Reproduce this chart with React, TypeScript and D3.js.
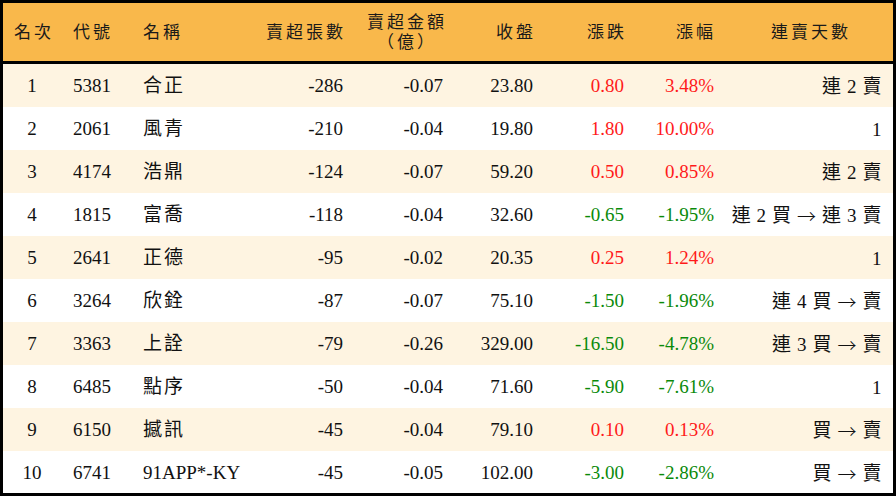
import React from 'react';
import * as d3 from 'd3';

const ranks = [1, 2, 3, 4, 5, 6, 7, 8, 9, 10];
const codes = ['5381', '2061', '4174', '1815', '2641', '3264', '3363', '6485', '6150', '6741'];
const names = ['合正', '風青', '浩鼎', '富喬', '正德', '欣銓', '上詮', '點序', '撼訊', '91APP*-KY'];
const sellLots = [-286, -210, -124, -118, -95, -87, -79, -50, -45, -45];
const sellAmt = [-0.07, -0.04, -0.07, -0.04, -0.02, -0.07, -0.26, -0.04, -0.04, -0.05];
const closes = [23.8, 19.8, 59.2, 32.6, 20.35, 75.1, 329.0, 71.6, 79.1, 102.0];
const changes = [0.8, 1.8, 0.5, -0.65, 0.25, -1.5, -16.5, -5.9, 0.1, -3.0];
const pcts = [3.48, 10.0, 0.85, -1.95, 1.24, -1.96, -4.78, -7.61, 0.13, -2.86];
const streaks = ['連 2 賣', '1', '連 2 賣', '連 2 買 → 連 3 賣', '1', '連 4 買 → 賣', '連 3 買 → 賣', '1', '買 → 賣', '買 → 賣'];

const W = 896;
const H = 496;
const headerH = 62;
const FONT = "'Liberation Serif', 'Noto Sans CJK TC', serif";
const CJK = "'Noto Sans CJK TC', sans-serif";

const App = () => {
  // 列位置
  const y = d3.scaleBand<number>()
    .domain(d3.range(ranks.length))
    .range([64, 494])
    .padding(0);

  const colour = (v: number) => (v > 0 ? '#ff1a1a' : v < 0 ? '#0a8a0a' : '#111');
  const fmt2 = (v: number) => v.toFixed(2);

  const head = { fontFamily: FONT, fontSize: 17, letterSpacing: 3, fill: '#1a1a1a' } as const;
  const cell = { fontFamily: FONT, fontSize: 19, fill: '#111' } as const;

  const streakText = (s: string) =>
    s.split(/(→)/).map((part, k) =>
      part === '→'
        ? <tspan key={k} fontFamily={CJK} fontWeight={300}>{part}</tspan>
        : <tspan key={k}>{part}</tspan>
    );

  return (
    <svg width={W} height={H} style={{ position: 'absolute', left: 0, top: 0 }}>
      <rect x={0} y={0} width={W} height={headerH} fill="#f9b84b" />
      {ranks.map((_, i) => (
        <rect key={i} x={0} y={y(i)} width={W} height={y.bandwidth()} fill={i % 2 === 0 ? '#fef4e1' : '#ffffff'} />
      ))}
      <rect x={0} y={61} width={W} height={3} fill="#000" />

      {/* 表頭 */}
      <g dominantBaseline="central" style={head}>
        <text x={34} y={32} textAnchor="middle">名次</text>
        <text x={73} y={32}>代號</text>
        <text x={143} y={32}>名稱</text>
        <text x={346} y={32} textAnchor="end">賣超張數</text>
        <text x={407} y={22} textAnchor="middle">賣超金額</text>
        <text x={407} y={42} textAnchor="middle">（億）</text>
        <text x={536} y={32} textAnchor="end">收盤</text>
        <text x={627} y={32} textAnchor="end">漲跌</text>
        <text x={716} y={32} textAnchor="end">漲幅</text>
        <text x={811} y={32} textAnchor="middle">連賣天數</text>
      </g>

      {ranks.map((r, i) => {
        const cy = (y(i) as number) + y.bandwidth() / 2;
        return (
          <g key={r} dominantBaseline="central" style={cell}>
            <text x={32} y={cy} textAnchor="middle">{r}</text>
            <text x={73} y={cy}>{codes[i]}</text>
            <text x={143} y={cy} letterSpacing={names[i].length === 2 ? 2 : 0}>{names[i]}</text>
            <text x={343} y={cy} textAnchor="end">{sellLots[i]}</text>
            <text x={443} y={cy} textAnchor="end">{fmt2(sellAmt[i])}</text>
            <text x={533} y={cy} textAnchor="end">{fmt2(closes[i])}</text>
            <text x={624} y={cy} textAnchor="end" fill={colour(changes[i])}>{fmt2(changes[i])}</text>
            <text x={714} y={cy} textAnchor="end" fill={colour(pcts[i])}>{fmt2(pcts[i]) + '%'}</text>
            <text x={882} y={cy} textAnchor="end" letterSpacing={0.6}>{streakText(streaks[i])}</text>
          </g>
        );
      })}

      <rect x={1.5} y={1.5} width={W - 3} height={H - 3} fill="none" stroke="#000" strokeWidth={3} />
    </svg>
  );
};

export default App;
